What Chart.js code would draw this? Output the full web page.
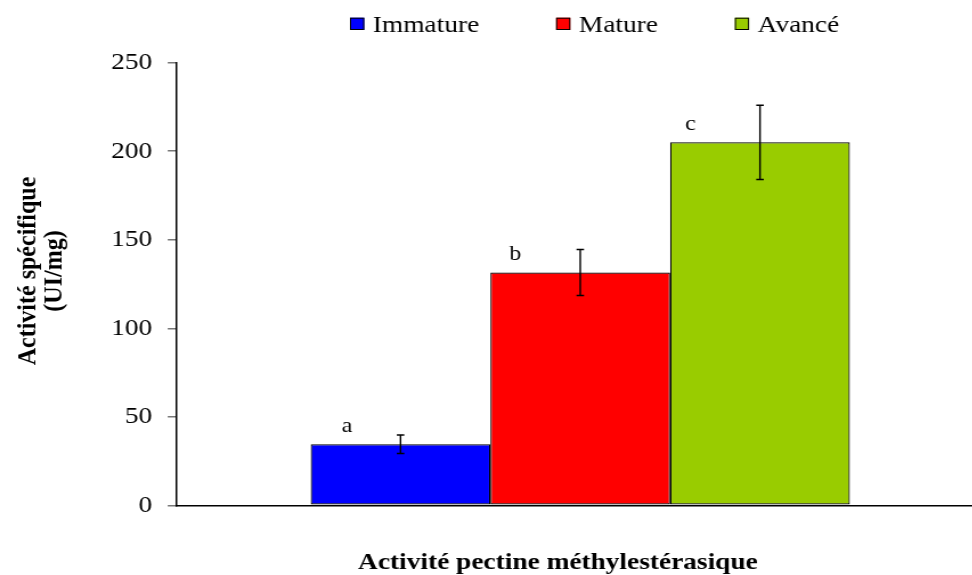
<!DOCTYPE html>
<html>
<head>
<meta charset="utf-8">
<script src="https://cdn.jsdelivr.net/npm/chart.js@4.4.1/dist/chart.umd.min.js"></script>
<style>
  html, body { margin: 0; padding: 0; background: #fff; overflow: hidden; width: 972px; height: 575px; }
  /* the chart is laid out narrower and widened horizontally */
  #wrap { width: 863px; height: 575px; transform: scaleX(1.14); transform-origin: 0 0; }
  canvas { display: block; }
</style>
</head>
<body>
<div id="wrap"><canvas id="chart" width="863" height="575"></canvas></div>
<script>
// ---- data ----
const categories = ['Activité pectine méthylestérasique'];
const seriesNames = ['Immature', 'Mature', 'Avancé'];
const immature = [34.5];
const mature = [131.5];
const avance = [205];
const errImmature = [5.2];
const errMature = [13];
const errAvance = [21];
const groupLetters = ['a', 'b', 'c'];
const yTicks = [0, 50, 100, 150, 200, 250];
const yTitle = ['Activité spécifique', '(UI/mg)'];

// ---- style ----
const FONT = '"Liberation Serif", "Times New Roman", serif';
const colors = ['#0000FF', '#FF0000', '#99CC00'];
const letterDx = [31.9, 21.8, 17.8];   // letter position from each bar's left edge

const values = [immature, mature, avance];
const errors = [errImmature, errMature, errAvance];

const decorations = {
  id: 'decorations',
  afterDatasetsDraw(chart) {
    const { ctx, scales: { y } } = chart;
    chart.data.datasets.forEach((ds, i) => {
      const bar = chart.getDatasetMeta(i).data[0];
      const v = ds.data[0], e = ds.errors[0];
      const yt = y.getPixelForValue(v + e);
      const yb = y.getPixelForValue(v - e);
      ctx.save();
      ctx.strokeStyle = '#000';
      ctx.lineWidth = 1.4;
      ctx.beginPath();
      ctx.moveTo(bar.x, yt); ctx.lineTo(bar.x, yb);
      ctx.moveTo(bar.x - 3.3, yt); ctx.lineTo(bar.x + 3.3, yt);
      ctx.moveTo(bar.x - 3.3, yb); ctx.lineTo(bar.x + 3.3, yb);
      ctx.stroke();
      // significance letter above the bar
      ctx.fillStyle = '#000';
      ctx.font = '21px ' + FONT;
      ctx.textAlign = 'center';
      ctx.textBaseline = 'alphabetic';
      ctx.fillText(groupLetters[i], bar.x - bar.width / 2 + letterDx[i], bar.y - 12);
      ctx.restore();
    });
  },
  afterDraw(chart) {
    const { ctx } = chart;
    ctx.save();
    ctx.fillStyle = '#000';

    // legend row
    ctx.font = '24px ' + FONT;
    ctx.textAlign = 'left';
    ctx.textBaseline = 'alphabetic';
    let lx = 307;
    chart.data.datasets.forEach((ds) => {
      ctx.fillStyle = ds.backgroundColor;
      ctx.fillRect(lx, 17.7, 12.5, 12.3);
      ctx.strokeStyle = '#000';
      ctx.lineWidth = 1;
      ctx.strokeRect(lx + 0.5, 18.2, 11.5, 11.3);
      ctx.fillStyle = '#000';
      const tx = lx + 12.5 + 7.5;
      ctx.fillText(ds.label, tx, 31.7);
      lx = tx + ctx.measureText(ds.label).width + 67.5;
    });

    // horizontal axis title (category name)
    ctx.font = 'bold 24px ' + FONT;
    ctx.textAlign = 'center';
    ctx.fillText(chart.data.labels[0], 489.4, 569.3);

    // vertical axis title, two lines
    ctx.translate(0, 271);
    ctx.rotate(-Math.PI / 2);
    ctx.textBaseline = 'middle';
    ctx.fillText(yTitle[0], 0, 24.8);
    ctx.fillText(yTitle[1], 0, 48.2);
    ctx.restore();
  }
};

new Chart(document.getElementById('chart'), {
  type: 'bar',
  data: {
    labels: categories,
    datasets: seriesNames.map((name, i) => ({
      label: name,
      data: values[i],
      errors: errors[i],
      backgroundColor: colors[i],
      borderColor: '#000',
      borderWidth: 1.2,
      borderSkipped: false,
      barPercentage: 1,
      categoryPercentage: 0.668
    }))
  },
  options: {
    responsive: false,
    animation: false,
    devicePixelRatio: 1,
    layout: { padding: { top: 62.7, left: 0, right: 0, bottom: 0 } },
    plugins: {
      legend: { display: false },
      tooltip: { enabled: false }
    },
    scales: {
      x: {
        ticks: { display: false },
        grid: { display: false, drawTicks: false },
        border: { display: true, color: '#000', width: 1.5 },
        afterFit: (s) => { s.height = 69.7; }
      },
      y: {
        min: 0,
        max: 250,
        afterBuildTicks: (s) => { s.ticks = yTicks.map(v => ({ value: v })); },
        ticks: { font: { family: FONT, size: 24 }, color: '#000', padding: 13.5 },
        grid: { drawOnChartArea: false, drawTicks: true, tickLength: 7.9, color: '#777', lineWidth: 1.5 },
        border: { display: true, color: '#000', width: 1.5 },
        afterFit: (s) => { s.width = 155; }
      }
    }
  },
  plugins: [decorations]
});
</script>
</body>
</html>
